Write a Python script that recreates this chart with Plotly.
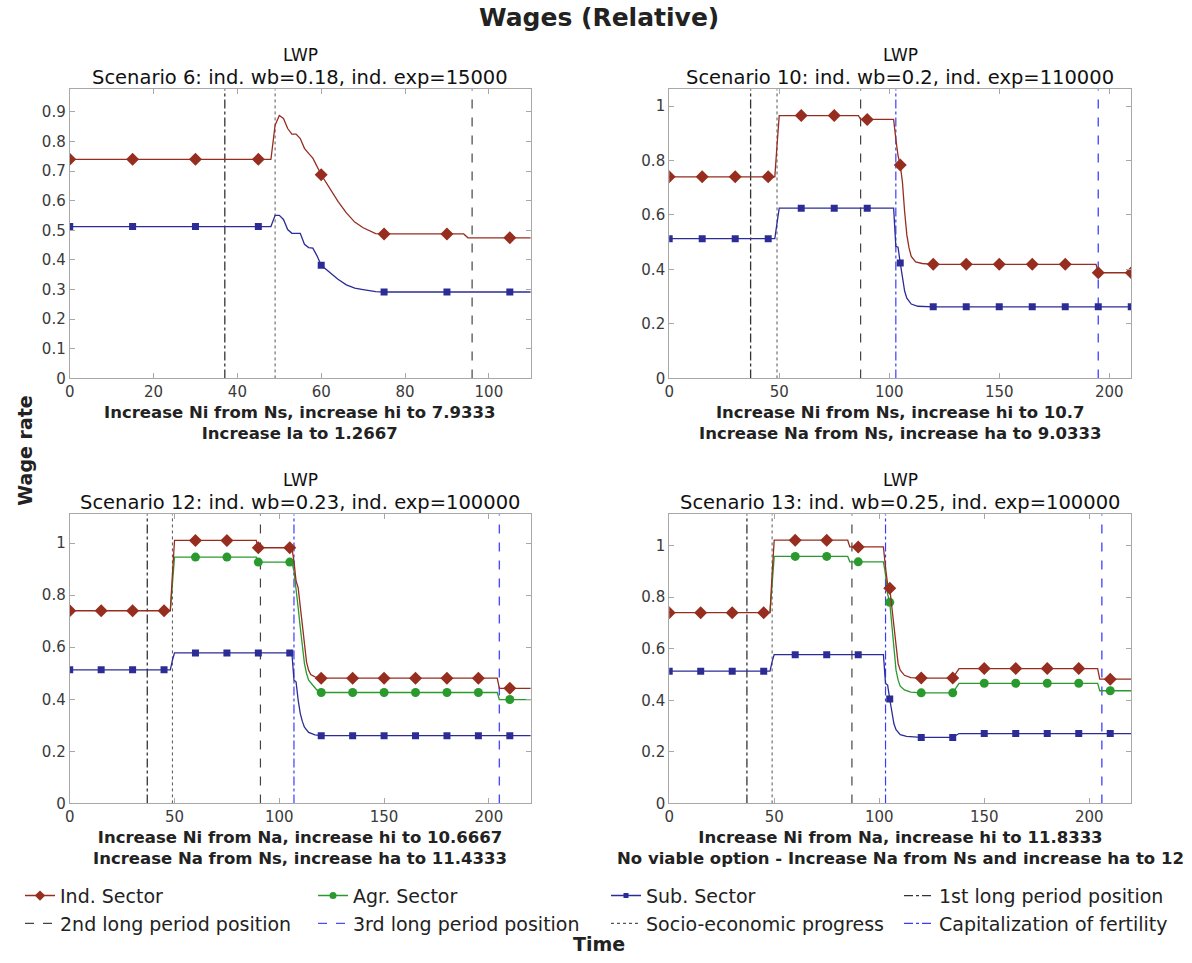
import plotly.graph_objects as go

# ---------------- DATA ----------------
# Scenario 6
s6_t_ind = [0, 15, 30, 45, 48, 49, 50, 51, 52, 53, 54, 55, 56, 57, 58, 60, 62, 64, 66, 68, 70, 72, 73, 75, 90, 94, 95, 105, 110]
s6_ind = [0.74, 0.74, 0.74, 0.74, 0.74, 0.855, 0.888, 0.878, 0.844, 0.825, 0.825, 0.81, 0.777, 0.76, 0.744, 0.688,
          0.643, 0.598, 0.559, 0.528, 0.509, 0.494, 0.489, 0.488, 0.488, 0.488, 0.475, 0.475, 0.475]
s6_t_sub = [0, 15, 30, 45, 48, 49, 50, 51, 52, 53, 55, 56, 57, 58, 59, 60, 62, 64, 66, 68, 70, 72, 73, 75, 90, 105, 110]
s6_sub = [0.513, 0.513, 0.513, 0.513, 0.513, 0.551, 0.551, 0.537, 0.503, 0.49, 0.49, 0.453, 0.442, 0.44, 0.414, 0.382,
          0.358, 0.335, 0.316, 0.305, 0.30, 0.294, 0.293, 0.292, 0.292, 0.292, 0.292]

# Scenario 10
s10_t_ind = [0, 15, 30, 45, 48, 49, 50, 60, 75, 86, 87, 90, 102, 103, 104, 105, 106, 107, 108, 109, 110, 112, 115,
             120, 135, 150, 165, 180, 194, 195, 210]
s10_ind = [0.74, 0.74, 0.74, 0.74, 0.74, 0.855, 0.965, 0.965, 0.965, 0.965, 0.951, 0.951, 0.951, 0.879, 0.818, 0.784,
           0.721, 0.612, 0.527, 0.479, 0.448, 0.428, 0.422, 0.419, 0.419, 0.419, 0.419, 0.419, 0.419, 0.388, 0.388]
s10_t_sub = [0, 15, 30, 45, 48, 49, 50, 60, 75, 90, 102, 103, 104, 105, 106, 107, 108, 110, 113,
             120, 135, 150, 165, 180, 195, 210]
s10_sub = [0.513, 0.513, 0.513, 0.513, 0.513, 0.57, 0.625, 0.625, 0.625, 0.625, 0.625, 0.485, 0.482, 0.424, 0.37,
           0.321, 0.295, 0.273, 0.265, 0.263, 0.263, 0.263, 0.263, 0.263, 0.263, 0.263]

# Scenario 12
s12_t_ind = [0, 15, 30, 45, 48, 49, 50, 60, 75, 89, 90, 105, 106, 107, 108, 109, 110, 111, 112, 113, 114, 115, 117,
             120, 135, 150, 165, 180, 195, 204, 205, 210, 220]
s12_ind = [0.74, 0.74, 0.74, 0.74, 0.74, 0.88, 1.01, 1.01, 1.01, 1.01, 0.982, 0.982, 0.982, 0.930, 0.854, 0.829,
           0.752, 0.676, 0.60, 0.543, 0.511, 0.495, 0.486, 0.481, 0.481, 0.481, 0.481, 0.481, 0.481, 0.481,
           0.442, 0.442, 0.442]
s12_t_agr = [48, 49, 50, 60, 75, 89, 90, 105, 106, 107, 108, 109, 110, 111, 112, 113, 114, 116, 118,
             120, 135, 150, 165, 180, 195, 204, 205, 210, 220]
s12_agr = [0.74, 0.85, 0.946, 0.946, 0.946, 0.946, 0.927, 0.927, 0.927, 0.892, 0.829, 0.752, 0.676, 0.60, 0.537,
           0.499, 0.473, 0.454, 0.435, 0.426, 0.426, 0.426, 0.426, 0.426, 0.426, 0.426, 0.399, 0.399, 0.399]
s12_t_sub = [0, 15, 30, 45, 48, 49, 50, 60, 75, 90, 105, 106, 107, 108, 109, 110, 111, 112, 114, 117,
             120, 135, 150, 165, 180, 195, 210, 220]
s12_sub = [0.513, 0.513, 0.513, 0.513, 0.513, 0.55, 0.578, 0.578, 0.578, 0.578, 0.578, 0.578, 0.473, 0.467, 0.397,
           0.346, 0.315, 0.293, 0.273, 0.263, 0.26, 0.26, 0.26, 0.26, 0.26, 0.26, 0.26, 0.26]

# Scenario 13
s13_t_ind = [0, 15, 30, 45, 48, 49, 50, 60, 75, 85, 86, 90, 102, 103, 104, 105, 106, 107, 108, 109, 110, 112, 115,
             120, 135, 138, 150, 165, 180, 195, 204, 205, 210, 220]
s13_ind = [0.74, 0.74, 0.74, 0.74, 0.74, 0.89, 1.021, 1.021, 1.021, 1.021, 0.995, 0.995, 0.995, 0.914, 0.85, 0.835,
           0.76, 0.67, 0.594, 0.542, 0.517, 0.497, 0.488, 0.486, 0.486, 0.523, 0.523, 0.523, 0.523, 0.523, 0.523,
           0.482, 0.482, 0.482]
s13_t_agr = [48, 49, 50, 60, 75, 85, 86, 90, 102, 103, 104, 105, 106, 107, 108, 109, 110, 112, 115,
             120, 135, 138, 150, 165, 180, 195, 204, 205, 210, 220]
s13_agr = [0.74, 0.85, 0.958, 0.958, 0.958, 0.958, 0.937, 0.937, 0.937, 0.888, 0.812, 0.78, 0.696, 0.594, 0.517,
           0.478, 0.455, 0.44, 0.432, 0.429, 0.429, 0.466, 0.466, 0.466, 0.466, 0.466, 0.466, 0.437, 0.437, 0.437]
s13_t_sub = [0, 15, 30, 45, 48, 49, 50, 60, 75, 90, 102, 103, 104, 105, 106, 107, 108, 110, 113,
             120, 135, 138, 150, 165, 180, 195, 210, 220]
s13_sub = [0.513, 0.513, 0.513, 0.513, 0.513, 0.55, 0.577, 0.577, 0.577, 0.577, 0.577, 0.465, 0.459, 0.405, 0.35,
           0.309, 0.286, 0.267, 0.26, 0.256, 0.256, 0.271, 0.271, 0.271, 0.271, 0.271, 0.271, 0.271]

# Event positions per scenario (None = not present)
long1_pos = [37, 37, 37, 37]
socio_pos = [49, 49, 49, 49]
long2_pos = [96, 87, 91, 87]
capfert_pos = [None, 103, 107, 103]
long3_pos = [None, 195, 205, 206]

x_max = [110, 210, 220, 220]
y_max = [0.977, 1.062, 1.111, 1.122]
x_dtick = [20, 50, 50, 50]
y_dtick = [0.1, 0.2, 0.2, 0.2]
marker_every = 15

scenario_titles = [
    "Scenario 6: ind. wb=0.18, ind. exp=15000",
    "Scenario 10: ind. wb=0.2, ind. exp=110000",
    "Scenario 12: ind. wb=0.23, ind. exp=100000",
    "Scenario 13: ind. wb=0.25, ind. exp=100000",
]
option_texts = [
    "Increase Ni from Ns, increase hi to 7.9333<br>Increase la to 1.2667",
    "Increase Ni from Ns, increase hi to 10.7<br>Increase Na from Ns, increase ha to 9.0333",
    "Increase Ni from Na, increase hi to 10.6667<br>Increase Na from Ns, increase ha to 11.4333",
    "Increase Ni from Na, increase hi to 11.8333<br>No viable option - Increase Na from Ns and increase ha to 12",
]

series = [
    {"ind": (s6_t_ind, s6_ind), "agr": None, "sub": (s6_t_sub, s6_sub)},
    {"ind": (s10_t_ind, s10_ind), "agr": None, "sub": (s10_t_sub, s10_sub)},
    {"ind": (s12_t_ind, s12_ind), "agr": (s12_t_agr, s12_agr), "sub": (s12_t_sub, s12_sub)},
    {"ind": (s13_t_ind, s13_ind), "agr": (s13_t_agr, s13_agr), "sub": (s13_t_sub, s13_sub)},
]

# ---------------- STYLE ----------------
W, H = 1192, 963
FONT = "DejaVu Sans"
C_IND = "#962d1e"
C_AGR = "#2a9a2e"
C_SUB = "#2c2c96"
C_BLUE = "#3b3bff"
styles = {
    "ind": dict(color=C_IND, symbol="diamond", size=10, name="Ind. Sector"),
    "agr": dict(color=C_AGR, symbol="circle", size=9, name="Agr. Sector"),
    "sub": dict(color=C_SUB, symbol="square", size=7, name="Sub. Sector"),
}
vstyles = {
    "long1": dict(color="#333333", dash="dashdot", width=1.3, name="1st long period position"),
    "long2": dict(color="#444444", dash="dash", width=1.2, name="2nd long period position"),
    "long3": dict(color="#4d4dff", dash="dash", width=1.4, name="3rd long period position"),
    "socio": dict(color="#555555", dash="dot", width=1.0, name="Socio-economic progress"),
    "cap": dict(color=C_BLUE, dash="dashdot", width=1.2, name="Capitalization of fertility"),
}

# plot area pixel boxes (left, right, top, bottom)
boxes = [(65, 528, 90, 382), (667, 1131, 90, 382), (65, 528, 519, 811), (667, 1131, 519, 811)]

fig = go.Figure()

def px_x(p):
    return p / W

def px_y(p):
    return 1 - p / H

layout_axes = {}
for i, (l, r, t, b) in enumerate(boxes):
    n = "" if i == 0 else str(i + 1)
    common = dict(showline=True, mirror="allticks", linecolor="#a8a8a8", linewidth=1, ticks="inside", ticklen=5,
                  tickcolor="#a8a8a8", showgrid=False, zeroline=False, tick0=0,
                  tickfont=dict(family=FONT, size=15, color="#3a3a3a"))
    layout_axes["xaxis" + n] = dict(domain=[px_x(l), px_x(r)], anchor="y" + n, range=[0, x_max[i]],
                                    dtick=x_dtick[i], **common)
    layout_axes["yaxis" + n] = dict(domain=[px_y(b), px_y(t)], anchor="x" + n, range=[0, y_max[i]],
                                    dtick=y_dtick[i], **common)

for i in range(4):
    n = "" if i == 0 else str(i + 1)
    xa, ya = "x" + n, "y" + n
    events = [("long1", long1_pos[i]), ("socio", socio_pos[i]), ("long2", long2_pos[i]),
              ("cap", capfert_pos[i]), ("long3", long3_pos[i])]
    for key, pos in events:
        if pos is None:
            continue
        st = vstyles[key]
        fig.add_trace(go.Scatter(
            x=[pos, pos], y=[0, y_max[i]], xaxis=xa, yaxis=ya, mode="lines", showlegend=False,
            line=dict(color=st["color"], dash=st["dash"], width=st["width"]), hoverinfo="skip"))
    for key in ["agr", "sub", "ind"]:
        d = series[i][key]
        if d is None:
            continue
        tt, vv = d
        st = styles[key]
        fig.add_trace(go.Scatter(x=tt, y=vv, xaxis=xa, yaxis=ya, mode="lines", showlegend=False,
                                 line=dict(color=st["color"], width=1.3)))
        mt = [a for a in tt if a % marker_every == 0]
        mv = [v for a, v in zip(tt, vv) if a % marker_every == 0]
        fig.add_trace(go.Scatter(x=mt, y=mv, xaxis=xa, yaxis=ya, mode="markers", showlegend=False,
                                 marker=dict(color=st["color"], symbol=st["symbol"], size=st["size"],
                                             line=dict(width=0))))

# legend entries (order: row 1 then row 2)
legend_order = ["ind", "agr", "sub", "long1", "long2", "long3", "socio", "cap"]
for rank, key in enumerate(legend_order):
    if key in styles:
        st = styles[key]
        fig.add_trace(go.Scatter(x=[None], y=[None], mode="lines+markers", name=st["name"],
                                 line=dict(color=st["color"], width=1.5),
                                 marker=dict(color=st["color"], symbol=st["symbol"], size=st["size"] - 2),
                                 legendrank=rank + 1))
    else:
        st = vstyles[key]
        fig.add_trace(go.Scatter(x=[None], y=[None], mode="lines", name=st["name"],
                                 line=dict(color=st["color"], dash=st["dash"], width=1.2),
                                 legendrank=rank + 1))

annotations = []
for i, (l, r, t, b) in enumerate(boxes):
    cx = px_x((l + r) / 2)
    annotations.append(dict(text="LWP", x=cx, y=px_y(t - 34), xref="paper", yref="paper",
                            showarrow=False, xanchor="center", yanchor="middle",
                            font=dict(family=FONT, size=17, color="#111111")))
    annotations.append(dict(text=scenario_titles[i], x=cx, y=px_y(t - 12), xref="paper", yref="paper",
                            showarrow=False, xanchor="center", yanchor="middle",
                            font=dict(family=FONT, size=19.5, color="#111111")))
    annotations.append(dict(text="<b>" + option_texts[i].replace("<br>", "</b><br><b>") + "</b>",
                            x=cx, y=px_y(b + 23), xref="paper", yref="paper",
                            showarrow=False, xanchor="center", yanchor="top",
                            font=dict(family=FONT, size=16.5, color="#222222")))

annotations.append(dict(text="<b>Wages (Relative)</b>", x=0.5, y=px_y(18), xref="paper", yref="paper",
                        showarrow=False, xanchor="center", yanchor="middle",
                        font=dict(family=FONT, size=25, color="#222222")))
annotations.append(dict(text="<b>Wage rate</b>", x=px_x(20), y=px_y(455), xref="paper", yref="paper",
                        showarrow=False, xanchor="center", yanchor="middle", textangle=-90,
                        font=dict(family=FONT, size=19, color="#222222")))
annotations.append(dict(text="<b>Time</b>", x=0.5, y=px_y(953), xref="paper", yref="paper",
                        showarrow=False, xanchor="center", yanchor="middle",
                        font=dict(family=FONT, size=19, color="#222222")))

fig.update_layout(
    width=W, height=H, margin=dict(l=0, r=0, t=0, b=0),
    paper_bgcolor="white", plot_bgcolor="white",
    font=dict(family=FONT),
    showlegend=True,
    legend=dict(orientation="h", x=px_x(16), y=px_y(885), xanchor="left", yanchor="top",
                entrywidth=248, entrywidthmode="pixels", font=dict(family=FONT, size=19, color="#222222"),
                bgcolor="rgba(0,0,0,0)", tracegroupgap=0, itemwidth=30),
    annotations=annotations,
    **layout_axes,
)

fig.write_html("out.html")
